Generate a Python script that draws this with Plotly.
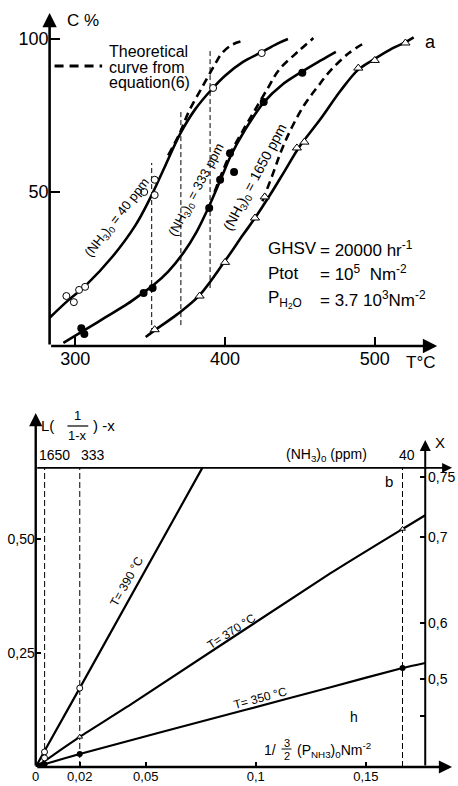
import numpy as np
import plotly.graph_objects as go

W, H = 458, 786
FONT = "Liberation Sans, Arial, sans-serif"


def px(x):
    return x / W


def py(y):
    return 1 - y / H


# ---------------- Panel a data (conversion C% vs T °C) ----------------
T_40_line = [283, 295, 307, 325, 340, 350, 360, 370, 380, 391, 400, 412, 424, 435, 442]
C_40_line = [9, 14.5, 19.5, 29, 39, 48, 58.5, 69, 77, 83.5, 88, 92.5, 95.6, 98.5, 100]
T_40_theo = [362, 370, 376, 385, 393, 398, 405, 413]
C_40_theo = [62, 69.5, 76.5, 84.5, 91.5, 95.4, 98.2, 99.5]
T_40_pts = [294, 299, 302.5, 306.5, 346, 353, 353, 392, 424.5]
C_40_pts = [16, 14, 18, 19, 50, 49, 54, 84, 95.4]

T_333_line = [292, 305, 320, 335, 345, 352, 362, 372, 381, 389, 397, 404, 413, 426, 438, 452, 464, 474]
C_333_line = [0.7, 4.5, 9, 13.5, 17, 19.5, 24, 30, 37, 45, 54, 62, 70, 79.4, 85, 89.5, 93, 95.8]
T_333_theo = [393, 403, 413, 420, 429, 436, 449, 459]
C_333_theo = [50, 62, 71, 76.8, 84.3, 89.9, 96, 100.3]
T_333_pts = [304, 306, 345.6, 351.6, 389.4, 396.7, 403.3, 406, 425.8, 451.6]
C_333_pts = [5.5, 3.6, 17, 18.6, 44.8, 54, 62.7, 56.5, 79.4, 89]

T_1650_line = [347, 355, 368, 383, 400, 412, 420, 430, 440, 450, 464, 477, 489, 500, 512, 520, 526]
C_1650_line = [2.6, 5.5, 10, 16.3, 27.5, 36, 41.5, 49, 57, 65, 74, 83, 90, 93.5, 97, 98.8, 100.5]
T_1650_theo = [425, 432, 438, 445, 453, 462, 471, 483, 494]
C_1650_theo = [47, 56, 64, 71.5, 78.5, 84.5, 90, 95.5, 99]
T_1650_pts = [353, 383, 400, 420, 426.5, 448, 453, 489, 500, 520.5]
C_1650_pts = [5, 16, 27, 41.5, 48.4, 64.4, 66.3, 90.5, 93, 98.7]

guide_T = [351, 370.5, 390]
guide_C_low = [3.9, 6.5, 18.6]
guide_C_high = [59.5, 76.8, 96.4]

a_xticks = [300, 400, 500]
a_yticks = [50, 100]

# ---------------- Panel b data ----------------
v_390 = [0, 0.004, 0.02, 0.0757]
L_390 = [0, 0.035, 0.173, 0.656]
v_370 = [0, 0.004, 0.02, 0.0441, 0.134, 0.1667, 0.177]
L_370 = [0, 0.013, 0.066, 0.140, 0.425, 0.522, 0.552]
v_350 = [0, 0.004, 0.02, 0.095, 0.134, 0.1667, 0.177]
L_350 = [0, 0.006, 0.0285, 0.125, 0.175, 0.217, 0.228]

b_open_v = [0.02, 0.004, 0.004]
b_open_L = [0.173, 0.033, 0.02]
b_small_v = [0.02, 0.1667]
b_small_L = [0.066, 0.522]
b_fill_v = [0.02, 0.1667, 0.004, 0.002]
b_fill_L = [0.0285, 0.217, 0.006, 0.003]

ppm_values = [1650, 333, 40]
ppm_labels = ["1650", "333", "40"]
top_line_L = 0.656

b_xticks = [0, 0.02, 0.05, 0.1, 0.15]
b_xticktext = ["0", "0,02", "0,05", "0,1", "0,15"]
b_yticks = [0.25, 0.5]
b_yticktext = ["0,25", "0,50"]
X_ticks = [0.4, 0.5, 0.6, 0.7, 0.75]
X_ticktext = ["", "0,5", "0,6", "0,7", "0,75"]

X_axis_v = 0.177
X_axis_top = 0.717

# ---------------- figure ----------------
fig = go.Figure()

solid = dict(color="black", width=2.6, shape="spline", smoothing=1.0)
dashed = dict(color="black", width=2.6, dash="8px,5px", shape="spline", smoothing=1.0)

for Tl, Cl in [(T_40_line, C_40_line), (T_333_line, C_333_line), (T_1650_line, C_1650_line)]:
    fig.add_trace(go.Scatter(x=Tl, y=Cl, mode="lines", line=solid, xaxis="x", yaxis="y", hoverinfo="skip"))
for Tl, Cl in [(T_40_theo, C_40_theo), (T_333_theo, C_333_theo), (T_1650_theo, C_1650_theo)]:
    fig.add_trace(go.Scatter(x=Tl, y=Cl, mode="lines", line=dashed, xaxis="x", yaxis="y", hoverinfo="skip"))

for t, lo, hi in zip(guide_T, guide_C_low, guide_C_high):
    fig.add_trace(go.Scatter(x=[t, t], y=[lo, hi], mode="lines",
                             line=dict(color="black", width=1, dash="5px,3px"),
                             xaxis="x", yaxis="y", hoverinfo="skip"))

fig.add_trace(go.Scatter(x=T_40_pts, y=C_40_pts, mode="markers",
                         marker=dict(symbol="circle", size=7, color="white", line=dict(color="black", width=1)),
                         xaxis="x", yaxis="y"))
fig.add_trace(go.Scatter(x=T_333_pts, y=C_333_pts, mode="markers",
                         marker=dict(symbol="circle", size=8, color="black"),
                         xaxis="x", yaxis="y"))
fig.add_trace(go.Scatter(x=T_1650_pts, y=C_1650_pts, mode="markers",
                         marker=dict(symbol="triangle-up", size=8, color="white", line=dict(color="black", width=1)),
                         xaxis="x", yaxis="y"))

# panel b lines
for vv, LL in [(v_390, L_390), (v_370, L_370), (v_350, L_350)]:
    fig.add_trace(go.Scatter(x=vv, y=LL, mode="lines",
                             line=dict(color="black", width=2.2, shape="spline", smoothing=0.6),
                             xaxis="x2", yaxis="y2", hoverinfo="skip"))

# vertical dashed lines at the (NH3)0 positions
ppm_v = [1.0 / (1.5 * p * 1e-6 * 1e5) for p in ppm_values]
for v in ppm_v:
    fig.add_trace(go.Scatter(x=[v, v], y=[0, top_line_L], mode="lines",
                             line=dict(color="black", width=1, dash="6px,3px"),
                             xaxis="x2", yaxis="y2", hoverinfo="skip"))

fig.add_trace(go.Scatter(x=b_open_v, y=b_open_L, mode="markers",
                         marker=dict(symbol="circle", size=6, color="white", line=dict(color="black", width=1)),
                         xaxis="x2", yaxis="y2"))
fig.add_trace(go.Scatter(x=b_small_v, y=b_small_L, mode="markers",
                         marker=dict(symbol="triangle-up", size=5, color="white", line=dict(color="black", width=1)),
                         xaxis="x2", yaxis="y2"))
fig.add_trace(go.Scatter(x=b_fill_v, y=b_fill_L, mode="markers",
                         marker=dict(symbol="circle", size=6, color="black"),
                         xaxis="x2", yaxis="y2"))

# invisible trace to hold the right X axis
fig.add_trace(go.Scatter(x=[X_axis_v], y=[0.1], mode="markers", marker=dict(opacity=0),
                         xaxis="x2", yaxis="y3", hoverinfo="skip"))

# ---------------- axes ----------------
a_xrange = [282.8, 541.7]
a_yrange = [-0.33, 108.5]
b_xrange = [0, 0.18919]
b_yrange = [0, 0.7763]

common = dict(showgrid=False, zeroline=False, showline=False, ticks="inside",
              tickcolor="black", tickwidth=1.5)

X_L = [float(np.log(1 / (1 - x)) - x) for x in X_ticks]

fig.update_layout(
    width=W, height=H, margin=dict(l=0, r=0, t=0, b=0),
    paper_bgcolor="white", plot_bgcolor="rgba(0,0,0,0)",
    showlegend=False,
    font=dict(family=FONT, color="black"),
    xaxis=dict(domain=[px(46), px(437)], range=a_xrange, anchor="y",
               tickvals=a_xticks, ticklen=9, tickfont=dict(size=18, family=FONT), **common),
    yaxis=dict(domain=[py(346), py(13)], range=a_yrange, anchor="x",
               tickvals=a_yticks, ticklen=10, tickfont=dict(size=18, family=FONT), **common),
    xaxis2=dict(domain=[px(32), px(452)], range=b_xrange, anchor="y2",
                tickvals=b_xticks, ticktext=b_xticktext, ticklen=5,
                tickfont=dict(size=13, family=FONT), **common),
    yaxis2=dict(domain=[py(767), py(413)], range=b_yrange, anchor="x2",
                tickvals=b_yticks, ticktext=b_yticktext, ticklen=5,
                tickfont=dict(size=14, family=FONT), **common),
    yaxis3=dict(overlaying="y2", side="right", anchor="free", position=px(425),
                range=b_yrange, tickvals=X_L, showticklabels=False, ticklen=5, **common),
)

ann = []


def arrow(x0, y0, x1, y1, xr, yr, w=2.2):
    ann.append(dict(x=x1, y=y1, ax=x0, ay=y0, xref=xr, yref=yr, axref=xr, ayref=yr,
                    text="", showarrow=True, arrowhead=2, arrowsize=1.1, arrowwidth=w,
                    arrowcolor="black", standoff=0, startstandoff=0))


# panel a axes
arrow(a_xrange[0], a_yrange[0], a_xrange[1], a_yrange[0], "x", "y", 2.6)
arrow(a_xrange[0], a_yrange[0], a_xrange[0], a_yrange[1], "x", "y", 2.6)
# panel b axes
arrow(0, 0, b_xrange[1], 0, "x2", "y2", 2.4)
arrow(0, 0, 0, b_yrange[1], "x2", "y2", 2.4)
arrow(0, top_line_L, b_xrange[1], top_line_L, "x2", "y2", 1.8)
arrow(X_axis_v, 0, X_axis_v, X_axis_top, "x2", "y2", 2.0)


def text(x, y, s, size=14, xanchor="center", yanchor="middle", angle=0):
    ann.append(dict(x=px(x), y=py(y), xref="paper", yref="paper", text=s, showarrow=False,
                    xanchor=xanchor, yanchor=yanchor, textangle=angle,
                    font=dict(size=size, family=FONT, color="black")))


# right X axis labels (placed at the X scale positions)
for lbl, Lv in zip(X_ticktext, X_L):
    if lbl:
        ann.append(dict(x=X_axis_v, y=Lv, xref="x2", yref="y2", text=lbl, showarrow=False,
                        xanchor="left", yanchor="middle", xshift=1,
                        font=dict(size=14, family=FONT, color="black")))

# panel a texts
text(62, 20, "C %", 17, xanchor="left")
text(104, 51, "Theoretical", 16, xanchor="left")
text(104, 67, "curve from", 16, xanchor="left")
text(104, 83, "equation(6)", 16, xanchor="left")
text(430, 42, "a", 18)
text(420, 362, "T°C", 17)
text(115, 218, "(NH<sub>3</sub>)<sub>0</sub> = 40 ppm", 13, angle=-52)
text(194, 190, "(NH<sub>3</sub>)<sub>0</sub> = 333 ppm", 13, angle=-62)
text(254, 177, "(NH<sub>3</sub>)<sub>0</sub> = 1650 ppm", 14, angle=-62)
text(264, 249, "GHSV", 17, xanchor="left")
text(264, 273, "Ptot", 17, xanchor="left")
text(264, 299, "P<sub>H<sub>2</sub>O</sub>", 17, xanchor="left")
text(317, 249, "= 20000 hr<sup>-1</sup>", 17, xanchor="left")
text(317, 273, "= 10<sup>5</sup>  Nm<sup>-2</sup>", 17, xanchor="left")
text(317, 299, "= 3.7 10<sup>3</sup>Nm<sup>-2</sup>", 17, xanchor="left")

# legend dashed sample
fig.add_shape(type="line", xref="paper", yref="paper", x0=px(51), x1=px(99), y0=py(66), y1=py(66),
              line=dict(color="black", width=3, dash="9px,6px"))

# panel b texts
text(44, 425, "L(", 15)
text(74, 416, "1", 13)
fig.add_shape(type="line", xref="paper", yref="paper", x0=px(64), x1=px(85), y0=py(426), y1=py(426),
              line=dict(color="black", width=1.2))
text(74, 435, "1-x", 13)
text(101, 425, ") -x", 15)

text(33, 455, ppm_labels[0], 14, xanchor="left")
text(76, 455, ppm_labels[1], 14, xanchor="left")
text(407, 455, ppm_labels[2], 14)
text(325, 455, "(NH<sub>3</sub>)<sub>0</sub> (ppm)", 14)
text(440, 443, "X", 15)
text(388, 481, "b", 15)
text(353, 717, "h", 14)

text(124, 581, "T= 390 °C", 12, angle=-60.7)
text(230, 631, "T= 370 °C", 12, angle=-33)
text(259, 698, "T= 350 °C", 12, angle=-15)

text(260, 750, "1/", 14, xanchor="left")
text(285, 743, "3", 11)
fig.add_shape(type="line", xref="paper", yref="paper", x0=px(280), x1=px(290), y0=py(749), y1=py(749),
              line=dict(color="black", width=1))
text(285, 756, "2", 11)
text(294, 750, "(P<sub>NH3</sub>)<sub>0</sub>Nm<sup>-2</sup>", 14, xanchor="left")

fig.update_layout(annotations=ann)

fig.write_html("out.html", config={"displayModeBar": False},
               post_script="document.body.style.margin='0';")
